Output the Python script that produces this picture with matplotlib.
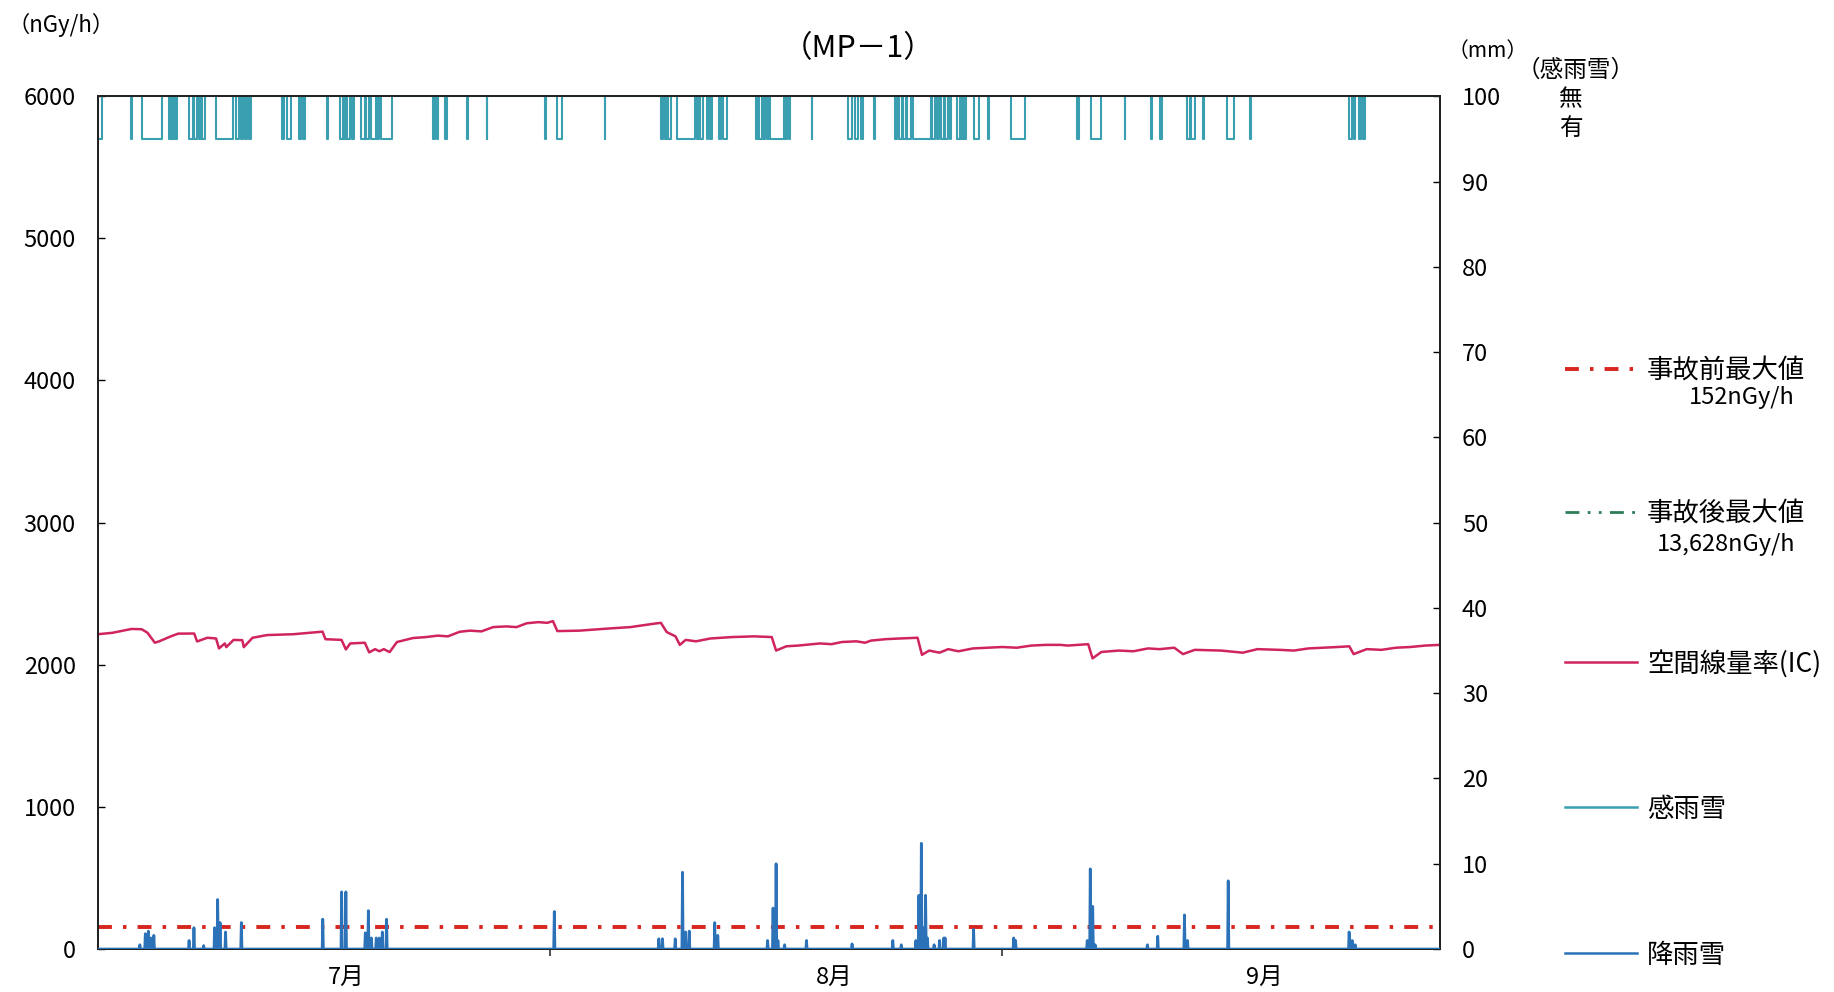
import matplotlib
matplotlib.use("Agg")
import matplotlib.pyplot as plt
from matplotlib.lines import Line2D
import numpy as np

plt.rcParams['font.family'] = ['Noto Sans CJK JP', 'DejaVu Sans']
plt.rcParams['lines.scale_dashes'] = False

# x axis: days since 1 July (Jul 1 .. Oct 1)
n_days = 92
month_edges = [31, 62]
month_label_pos = [17, 50.5, 80]
month_labels = ['7月', '8月', '9月']

# air dose rate (nGy/h)
dose_day = [0, 1.0, 2.3, 3.0, 3.4, 3.9, 4.2, 5.0, 5.5, 6.6, 6.8, 7.5, 8.1, 8.3, 8.7,
            8.8, 9.3, 9.9, 10.0, 10.6, 11.6, 13.4, 15.4, 15.6, 16.7, 17.0, 17.3, 18.3,
            18.6, 19.0, 19.3, 19.6, 20.0, 20.5, 21.6, 22.5, 23.3, 24.0, 24.8, 25.5, 26.3,
            27.1, 28.0, 28.7, 29.4, 30.2, 30.8, 31.2, 31.5,
            33, 35, 36.5, 38.2, 38.6, 39.0, 39.6, 39.9, 40.3, 41, 42, 43.5, 45, 46.2,
            46.5, 47.2, 48, 49.5, 50.3, 51, 52, 52.6, 53, 54, 55, 56.2, 56.5, 57, 57.7,
            58.3, 59, 60, 62, 63, 64, 65, 66, 66.5, 67.9, 68.2, 68.8, 70, 71, 72, 72.8,
            73.8, 74.4, 75.2, 77, 78.5, 79.5, 81, 82, 83, 84, 85, 85.8, 86.1, 87, 88, 89,
            90, 91, 92]
dose_val = [2215, 2225, 2252, 2250, 2225, 2155, 2165, 2200, 2219, 2220, 2164, 2190, 2185,
            2115, 2150, 2124, 2175, 2173, 2124, 2190, 2209, 2215, 2233, 2180, 2175, 2108,
            2150, 2155, 2087, 2110, 2095, 2110, 2089, 2160, 2188, 2195, 2205, 2200, 2232,
            2240, 2235, 2265, 2270, 2265, 2292, 2300, 2295, 2307, 2237,
            2240, 2255, 2265, 2290, 2295, 2230, 2200, 2140, 2175, 2165, 2185, 2195,
            2200, 2195, 2100, 2130, 2135, 2150, 2145, 2160, 2165, 2155, 2170, 2180, 2185,
            2190, 2070, 2100, 2085, 2110, 2095, 2115, 2125, 2120, 2135, 2140, 2140, 2135,
            2145, 2045, 2090, 2100, 2095, 2115, 2110, 2120, 2075, 2105, 2100, 2085, 2110,
            2105, 2100, 2115, 2120, 2125, 2130, 2075, 2110, 2105, 2120, 2125, 2135, 2140]

pre_accident_max = 152
post_accident_max = 13628

# hourly rainfall events (day, mm)
rain_day = [2.87, 3.26, 3.47, 3.61, 3.85, 6.23, 6.59, 7.24, 8.01, 8.22, 8.37, 8.73, 9.85,
            15.4, 16.69, 16.99, 18.33, 18.56, 18.77, 19.07, 19.31, 19.51, 19.81, 31.3,
            38.45, 38.7, 39.6, 40.08, 40.3, 40.56, 42.3, 42.5, 45.9, 46.28, 46.49, 46.64,
            47.1, 48.6, 51.7, 54.5, 55.1, 56.08, 56.29, 56.44, 56.59, 56.74, 56.86, 57.35,
            57.7, 57.99, 58.1, 60.06, 62.8, 62.9, 67.85, 68.06, 68.21, 68.36, 71.97, 72.65,
            74.5, 74.7, 77.5, 85.8, 86.0, 86.2]
rain_mm = [0.5, 1.8, 2.1, 1.3, 1.6, 1.0, 2.5, 0.4, 2.5, 5.8, 3.1, 2.0, 3.1,
           3.5, 6.7, 6.7, 1.9, 4.5, 1.3, 1.3, 1.3, 2.0, 3.5, 4.4,
           1.2, 1.2, 1.2, 9.0, 2.0, 2.1, 3.1, 1.6, 1.0, 4.8, 10.0, 1.0,
           0.5, 1.0, 0.6, 1.0, 0.5, 1.0, 6.3, 12.4, 2.5, 6.3, 1.3, 0.5,
           1.0, 1.3, 1.3, 2.3, 1.3, 1.0, 1.0, 9.4, 5.0, 0.5, 0.5, 1.5,
           4.0, 1.0, 8.0, 2.0, 1.0, 0.5]

# rain sensor "on" periods (start day, end day)
sensor_start = [0.0, 2.28, 3.02, 4.86, 5.1, 5.3, 6.23, 6.62, 6.92, 7.15, 8.07, 9.5, 9.8,
                10.05, 10.35, 12.59, 12.97, 13.78, 14.07, 15.74, 16.63, 16.9, 17.1, 17.4,
                18.03, 18.4, 18.7, 19.13, 19.4, 22.98, 23.26, 23.8, 25.31, 26.65, 30.66,
                31.49, 34.76, 38.6, 38.85, 39.1, 39.73, 41.07, 41.3, 41.75, 42.0, 42.6,
                42.85, 45.1, 45.35, 45.6, 45.85, 46.1, 47.1, 47.35, 48.93, 51.4, 51.9,
                52.3, 53.2, 54.66, 54.9, 55.2, 55.5, 55.9, 57.2, 57.5, 57.8, 58.1, 58.4,
                58.9, 59.2, 59.4, 60.08, 61.06, 62.6, 67.1, 68.06, 70.4, 72.2, 72.8, 74.7,
                74.95, 75.8, 77.4, 79.0, 85.8, 86.1, 86.5, 86.75]
sensor_end = [0.3, 2.33, 4.36, 4.98, 5.22, 5.4, 6.5, 6.8, 7.05, 7.33, 9.26, 9.7, 9.95,
              10.25, 10.5, 12.77, 13.27, 13.93, 14.22, 15.78, 16.8, 17.0, 17.3, 17.58,
              18.3, 18.6, 19.07, 19.25, 20.17, 23.13, 23.35, 23.9, 25.35, 26.7, 30.7,
              31.79, 34.8, 38.75, 39.0, 39.28, 40.92, 41.2, 41.5, 41.82, 42.1, 42.75,
              43.14, 45.25, 45.5, 45.75, 45.98, 47.03, 47.25, 47.48, 48.97, 51.7, 52.1,
              52.46, 53.25, 54.8, 55.1, 55.4, 55.78, 57.13, 57.4, 57.7, 58.0, 58.3, 58.5,
              59.1, 59.3, 59.55, 60.39, 61.1, 63.6, 67.3, 68.75, 70.45, 72.3, 72.98, 74.85,
              75.2, 75.85, 77.9, 79.05, 86.0, 86.2, 86.6, 86.9]
sensor_off_level = 100
sensor_on_level = 95

c_dose = '#d0245c'
c_pre = '#d7261e'
c_post = '#2e7d57'
c_sensor = '#3a9fb0'
c_rain = '#2c72b8'

# build series
hours = np.arange(0, n_days * 24 + 1)
t_hour = hours / 24.0
rain = np.zeros(len(hours))
for d, mm in zip(rain_day, rain_mm):
    i = int(round(d * 24))
    rain[i] = max(rain[i], mm)

sx = [0.0]
sy = [sensor_off_level]
for s, e in zip(sensor_start, sensor_end):
    sx += [s, e]
    sy += [sensor_on_level, sensor_off_level]
sx.append(n_days)
sy.append(sensor_off_level)

fig = plt.figure(figsize=(18.34, 9.92), dpi=100)
ax = fig.add_axes([0.0534, 0.0433, 0.7316, 0.8597])
ax2 = ax.twinx()

ax.plot(dose_day, dose_val, color=c_dose, lw=1.8, zorder=3)
ax.axhline(pre_accident_max, color=c_pre, lw=2.8, dashes=[10, 8, 2.5, 8], zorder=2)
ax.axhline(post_accident_max, color=c_post, lw=2.0, dashes=[8, 4, 2, 4, 2, 4])

ax2.plot(t_hour, rain, color=c_rain, lw=2.0, zorder=3)
ax2.plot(sx, sy, color=c_sensor, lw=1.5, drawstyle='steps-post', zorder=2)

ax.set_xlim(0, n_days)
ax.set_ylim(0, 6000)
ax2.set_ylim(0, 100)
ax.set_yticks(range(0, 6001, 1000))
ax2.set_yticks(range(0, 101, 10))

ax.set_xticks(month_edges)
ax.set_xticklabels([])
ax.set_xticks(month_label_pos, minor=True)
ax.set_xticklabels(month_labels, minor=True)
ax.tick_params(axis='x', which='major', direction='out', length=5, width=1.2, color='#333')
ax.tick_params(axis='x', which='minor', length=0, pad=12, labelsize=17)
ax.tick_params(axis='y', direction='in', length=5, width=1.0, pad=16, labelsize=17)
ax2.tick_params(axis='y', direction='in', length=5, width=1.0, pad=16, labelsize=17)

for a in (ax, ax2):
    for sp in a.spines.values():
        sp.set_color('#222')
        sp.set_linewidth(1.4)

# titles and unit labels
fig.text(0.004, 0.975, '（nGy/h）', fontsize=16, ha='left', va='center')
fig.text(0.468, 0.951, '（MP－1）', fontsize=22, ha='center', va='center')
fig.text(0.789, 0.949, '（mm）', fontsize=15, ha='left', va='center')
fig.text(0.859, 0.929, '（感雨雪）', fontsize=17, ha='center', va='center')
fig.text(0.8565, 0.900, '無', fontsize=17, ha='center', va='center')
fig.text(0.8565, 0.870, '有', fontsize=17, ha='center', va='center')

# legend (manual layout)
lx0, lx1, tx, sub_x = 0.8533, 0.8926, 0.898, 0.9787
entries = [
    (0.628, '事故前最大値', c_pre, dict(lw=2.8, dashes=[10, 8, 2.5, 8])),
    (0.484, '事故後最大値', c_post, dict(lw=2.0, dashes=[10, 6, 2, 6, 2, 6])),
    (0.333, '空間線量率(IC)', c_dose, dict(lw=1.8)),
    (0.186, '感雨雪', c_sensor, dict(lw=1.8)),
    (0.039, '降雨雪', c_rain, dict(lw=1.8)),
]
for y, label, col, kw in entries:
    fig.add_artist(Line2D([lx0, lx1], [y, y], color=col, transform=fig.transFigure, **kw))
    fig.text(tx, y - 0.002, label, fontsize=19, ha='left', va='center')
fig.text(sub_x, 0.599, '152nGy/h', fontsize=17, ha='right', va='center')
fig.text(sub_x, 0.451, '13,628nGy/h', fontsize=17, ha='right', va='center')

fig.savefig('out.png', dpi=100, facecolor='white')
